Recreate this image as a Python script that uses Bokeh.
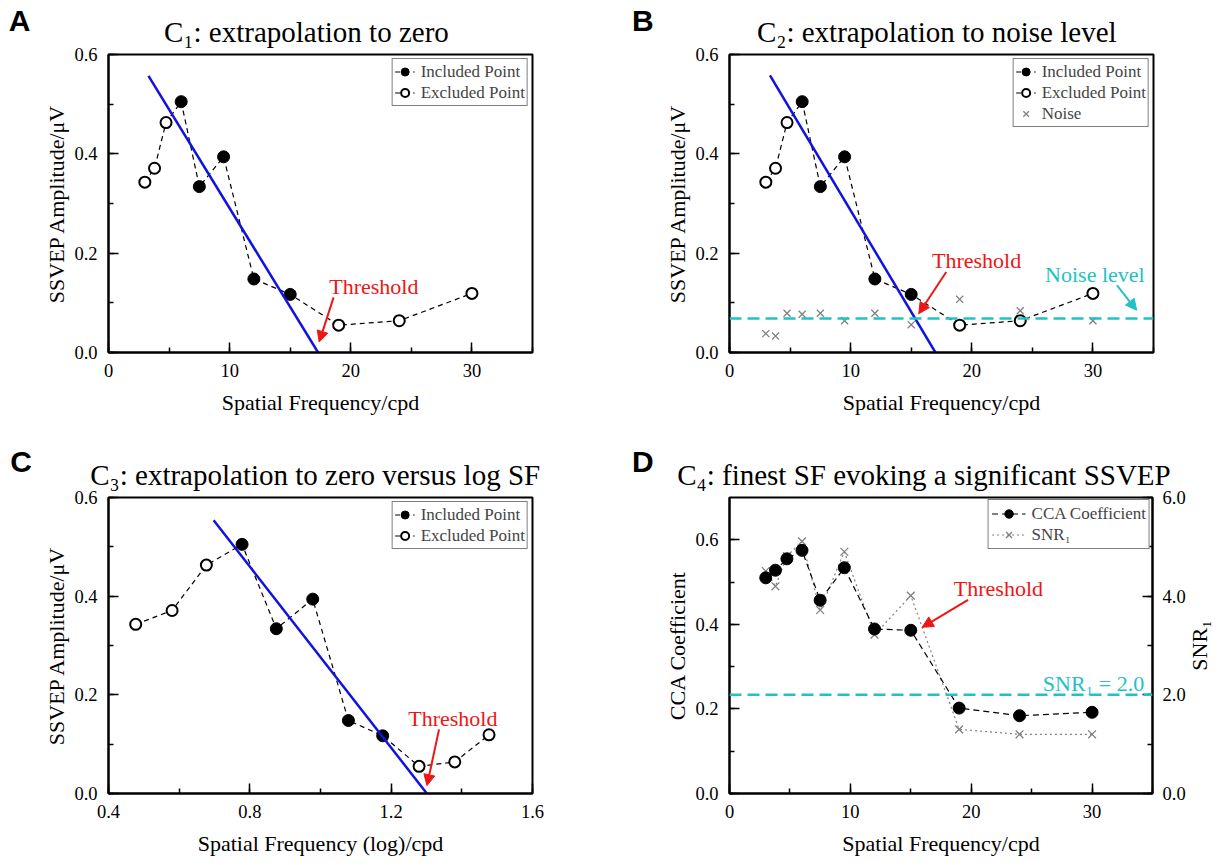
import math
from bokeh.plotting import figure
from bokeh.models import (Range1d, LinearAxis, SingleIntervalTicker, FixedTicker,
                          PrintfTickFormatter, Legend, LegendItem, Label, Arrow, NormalHead, Span)
from bokeh.layouts import row, column
from bokeh.embed import file_html
from bokeh.resources import INLINE

# ---------------- data ----------------
sf = [3, 3.8, 4.75, 6, 7.5, 9.5, 12, 15, 19, 24, 30]
log_sf = [0.477, 0.580, 0.677, 0.778, 0.875, 0.978, 1.079, 1.176, 1.279, 1.380, 1.477]
amplitude = [0.343, 0.371, 0.463, 0.505, 0.334, 0.394, 0.148, 0.117, 0.055, 0.064, 0.119]
included = [False, False, False, True, True, True, True, True, False, False, False]
noise = [0.038, 0.033, 0.079, 0.077, 0.079, 0.064, 0.079, 0.056, 0.107, 0.084, 0.064]
noise_level = 0.0686
cca = [0.510, 0.528, 0.555, 0.575, 0.457, 0.534, 0.389, 0.386, 0.202, 0.184, 0.192]
snr1 = [4.51, 4.20, 4.81, 5.11, 3.72, 4.90, 3.22, 4.01, 1.30, 1.20, 1.20]
snr_criterion = 2.0

fit_a_x, fit_a_y = [3.3, 17.3], [0.557, 0.0]
fit_b_x, fit_b_y = [3.34, 17.0], [0.558, 0.0]
fit_c_x, fit_c_y = [0.6975, 1.301], [0.554, 0.0]

titles = ["C\u2081: extrapolation to zero",
          "C\u2082: extrapolation to noise level",
          "C\u2083: extrapolation to zero versus log SF",
          "C\u2084: finest SF evoking a significant SSVEP"]
panel_letters = ["A", "B", "C", "D"]

SERIF = "Liberation Serif"
SANS = "Liberation Sans"
BLUE = "#1212e0"
RED = "#f01515"
CYAN = "#22c2c4"
GRAY = "#808080"
EPS = 1e-9
LW_LEFT = 40     # strip holding letters A and C
LW_RIGHT = 50    # strip holding letters B and D
RSTRIP = 35      # strip holding the right axis title of panel D


def style_axis(ax):
    ax.axis_line_width = 2
    ax.axis_line_color = "black"
    ax.major_tick_in = 10
    ax.major_tick_out = 0
    ax.minor_tick_in = 5
    ax.minor_tick_out = 0
    ax.major_tick_line_width = 1.5
    ax.minor_tick_line_width = 1.5
    ax.major_label_text_font = SERIF
    ax.major_label_text_font_size = "18.5px"
    ax.major_label_text_color = "black"
    ax.axis_label_text_font = SERIF
    ax.axis_label_text_font_size = "22px"
    ax.axis_label_text_font_style = "normal"
    ax.axis_label_text_color = "black"


def bare_axis(ax):
    ax.axis_line_alpha = 0
    ax.major_tick_line_alpha = 0
    ax.minor_tick_line_alpha = 0
    ax.major_tick_in = 0
    ax.major_tick_out = 0
    ax.minor_tick_in = 0
    ax.minor_tick_out = 0


def make_fig(width, height, xr, yr, xint, yint, xfmt, yfmt, borders):
    p = figure(width=width, height=height, x_range=Range1d(*xr), y_range=Range1d(*yr),
               output_backend="svg", toolbar_location=None, title=None)
    p.min_border_left, p.min_border_right, p.min_border_top, p.min_border_bottom = borders
    p.grid.visible = False
    p.outline_line_color = "black"
    p.outline_line_width = 2
    p.outline_line_alpha = 1
    p.background_fill_color = "white"
    p.border_fill_color = "white"
    p.xaxis.ticker = SingleIntervalTicker(interval=xint, num_minor_ticks=2)
    p.yaxis.ticker = SingleIntervalTicker(interval=yint, num_minor_ticks=2)
    p.xaxis.formatter = PrintfTickFormatter(format=xfmt)
    p.yaxis.formatter = PrintfTickFormatter(format=yfmt)
    style_axis(p.xaxis[0])
    style_axis(p.yaxis[0])
    p.xaxis.major_label_standoff = 11
    p.xaxis.axis_label_standoff = 10
    p.yaxis.major_label_standoff = 11
    p.yaxis.axis_label_standoff = 2
    return p


def add_title(p, title_x, title):
    # chart title: a bare tick label just above the frame
    ta = LinearAxis(ticker=FixedTicker(ticks=[title_x]), major_label_overrides={title_x: title})
    bare_axis(ta)
    ta.major_label_standoff = 7
    ta.major_label_text_font = SERIF
    ta.major_label_text_font_size = "29px"
    ta.major_label_text_color = "black"
    p.add_layout(ta, "above")


def strip_fig(width, height, yr=(0, 1)):
    f = figure(width=width, height=height, x_range=Range1d(0, width), y_range=Range1d(*yr),
               output_backend="svg", toolbar_location=None, title=None,
               x_axis_type=None, y_axis_type=None, min_border=0)
    f.grid.visible = False
    f.outline_line_alpha = 0
    f.background_fill_color = "white"
    f.border_fill_color = "white"
    return f


def letter_fig(width, height, letter, cx, standoff):
    # narrow strip; the panel letter is a bare tick label above its (empty) frame
    f = strip_fig(width, height)
    ax = LinearAxis(ticker=FixedTicker(ticks=[cx]), major_label_overrides={cx: letter})
    bare_axis(ax)
    ax.major_label_standoff = standoff
    ax.major_label_text_font = SANS
    ax.major_label_text_font_style = "bold"
    ax.major_label_text_font_size = "30px"
    ax.major_label_text_color = "black"
    f.add_layout(ax, "above")
    return f


def add_text(p, x, y, text, color="black", size="22px"):
    p.add_layout(Label(x=x, y=y, text=text, text_color=color, text_font=SERIF,
                       text_font_size=size, text_align="center", text_baseline="alphabetic"))


def add_arrow(p, xs, ys, xe, ye, color):
    p.add_layout(Arrow(end=NormalHead(size=11, fill_color=color, line_color=color),
                       x_start=xs, y_start=ys, x_end=xe, y_end=ye,
                       line_color=color, line_width=2))


def add_points(p, xs, ys):
    xi = [x for x, m in zip(xs, included) if m]
    yi = [y for y, m in zip(ys, included) if m]
    xe = [x for x, m in zip(xs, included) if not m]
    ye = [y for y, m in zip(ys, included) if not m]
    r_line = p.line(xs, ys, line_color="black", line_width=1.2, line_dash="5 4")
    r_inc = p.scatter(xi, yi, marker="circle", size=12, fill_color="black", line_color="black")
    r_exc = p.scatter(xe, ye, marker="circle", size=11, fill_color="white", line_color="black",
                      line_width=2)
    return r_line, r_inc, r_exc


def make_legend(items, glyph_width=20, padding=2):
    return Legend(items=items, location="top_right", border_line_color="black",
                  border_line_width=1, label_text_font=SERIF, label_text_font_size="17px",
                  glyph_width=glyph_width, glyph_height=21, label_height=21, spacing=0,
                  padding=padding, margin=4, label_standoff=6, background_fill_alpha=1)


# ---------------- Panel A ----------------
pA = make_fig(610 - LW_LEFT, 430, (0, 35), (0, 0.6 + EPS), 10, 0.2, "%d", "%.1f",
              (108 - LW_LEFT, 78, 54, 78))
pA.xaxis.axis_label = "Spatial Frequency/cpd"
pA.yaxis.axis_label = "SSVEP Amplitude/\u03bcV"
lnA, incA, excA = add_points(pA, sf, amplitude)
pA.line(fit_a_x, fit_a_y, line_color=BLUE, line_width=2.5)
add_text(pA, 21.9, 0.133, "Threshold", color=RED)
add_arrow(pA, 18.58, 0.111, 17.39, 0.021, RED)
pA.add_layout(make_legend([LegendItem(label="Included Point", renderers=[lnA, incA]),
                           LegendItem(label="Excluded Point", renderers=[lnA, excA])]))
add_title(pA, 16.34, titles[0])
lA = letter_fig(LW_LEFT, 430, panel_letters[0], 19.1, 18)

# ---------------- Panel B ----------------
pB = make_fig(613 - LW_RIGHT, 430, (0, 35), (0, 0.6 + EPS), 10, 0.2, "%d", "%.1f",
              (119 - LW_RIGHT, 70, 54, 78))
pB.xaxis.axis_label = "Spatial Frequency/cpd"
pB.yaxis.axis_label = "SSVEP Amplitude/\u03bcV"
pB.add_layout(Span(location=noise_level, dimension="width", line_color=CYAN,
                   line_width=2.5, line_dash="12 6"))
rNoise = pB.scatter(sf, noise, marker="x", size=10, line_color=GRAY, line_width=1.3)
lnB, incB, excB = add_points(pB, sf, amplitude)
pB.line(fit_b_x, fit_b_y, line_color=BLUE, line_width=2.5)
add_text(pB, 20.4, 0.185, "Threshold", color=RED)
add_arrow(pB, 17.89, 0.162, 15.62, 0.078, RED)
add_text(pB, 30.16, 0.157, "Noise level", color=CYAN)
add_arrow(pB, 31.99, 0.135, 33.61, 0.085, CYAN)
pB.add_layout(make_legend([LegendItem(label="Included Point", renderers=[lnB, incB]),
                           LegendItem(label="Excluded Point", renderers=[lnB, excB]),
                           LegendItem(label="Noise", renderers=[rNoise])]))
add_title(pB, 17.11, titles[1])
lB = letter_fig(LW_RIGHT, 430, panel_letters[1], 32.4, 18)

# ---------------- Panel C ----------------
pC = make_fig(610 - LW_LEFT, 433, (0.4, 1.6 + EPS), (0, 0.6 + EPS), 0.4, 0.2, "%.1f", "%.1f",
              (108 - LW_LEFT, 78, 67, 70))
pC.xaxis.axis_label = "Spatial Frequency (log)/cpd"
pC.yaxis.axis_label = "SSVEP Amplitude/\u03bcV"
lnC, incC, excC = add_points(pC, log_sf, amplitude)
pC.line(fit_c_x, fit_c_y, line_color=BLUE, line_width=2.5)
add_text(pC, 1.3746, 0.1514, "Threshold", color=RED)
add_arrow(pC, 1.3355, 0.130, 1.3014, 0.016, RED)
pC.add_layout(make_legend([LegendItem(label="Included Point", renderers=[lnC, incC]),
                           LegendItem(label="Excluded Point", renderers=[lnC, excC])]))
add_title(pC, 0.985, titles[2])
lC = letter_fig(LW_LEFT, 433, panel_letters[2], 20.6, 20)

# ---------------- Panel D ----------------
pD = make_fig(613 - LW_RIGHT - RSTRIP, 433, (0, 35), (0, 0.7), 10, 0.2, "%d", "%.1f",
              (119 - LW_RIGHT, 70 - RSTRIP, 67, 70))
pD.xaxis.axis_label = "Spatial Frequency/cpd"
pD.yaxis.axis_label = "CCA Coefficient"
pD.extra_y_ranges = {"snr": Range1d(0, 6 + EPS)}
axR = LinearAxis(y_range_name="snr", ticker=SingleIntervalTicker(interval=2, num_minor_ticks=2),
                 formatter=PrintfTickFormatter(format="%.1f"))
style_axis(axR)
axR.major_label_standoff = 10
pD.add_layout(axR, "right")
pD.add_layout(Span(location=snr_criterion, dimension="width", y_range_name="snr",
                   line_color=CYAN, line_width=2.5, line_dash="12 6"))
rSnrLine = pD.line(sf, snr1, y_range_name="snr", line_color=GRAY, line_width=1.2,
                   line_dash="2 3")
rSnr = pD.scatter(sf, snr1, y_range_name="snr", marker="x", size=11, line_color=GRAY,
                  line_width=1.3)
rCcaLine = pD.line(sf, cca, line_color="black", line_width=1.2, line_dash="6 4")
rCca = pD.scatter(sf, cca, marker="circle", size=12, fill_color="black", line_color="black")
add_text(pD, 22.25, 0.484, "Threshold", color=RED)
add_arrow(pD, 19.74, 0.458, 15.94, 0.393, RED)
add_text(pD, 30.12, 0.2594, "SNR\u2081 = 2.0", color=CYAN)
legD = make_legend([LegendItem(label="CCA Coefficient", renderers=[rCcaLine, rCca]),
                    LegendItem(label="SNR\u2081", renderers=[rSnrLine, rSnr])],
                   glyph_width=34, padding=3)
legD.margin = 2
pD.add_layout(legD)
add_title(pD, 16.09, titles[3])
lD = letter_fig(LW_RIGHT, 433, panel_letters[3], 32.4, 20)

# right axis title of panel D, reading bottom-to-top, in its own strip
rD = strip_fig(RSTRIP, 433, yr=(0, 6))
rD.add_layout(Label(x=11, y=3.0, text="SNR\u2081", text_font=SERIF, text_font_size="22px",
                    text_align="center", text_baseline="middle", angle=math.pi / 2,
                    text_color="black"))

layout = column(row(lA, pA, lB, pB), row(lC, pC, lD, pD, rD))
open("out.html", "w").write(file_html(layout, INLINE))
